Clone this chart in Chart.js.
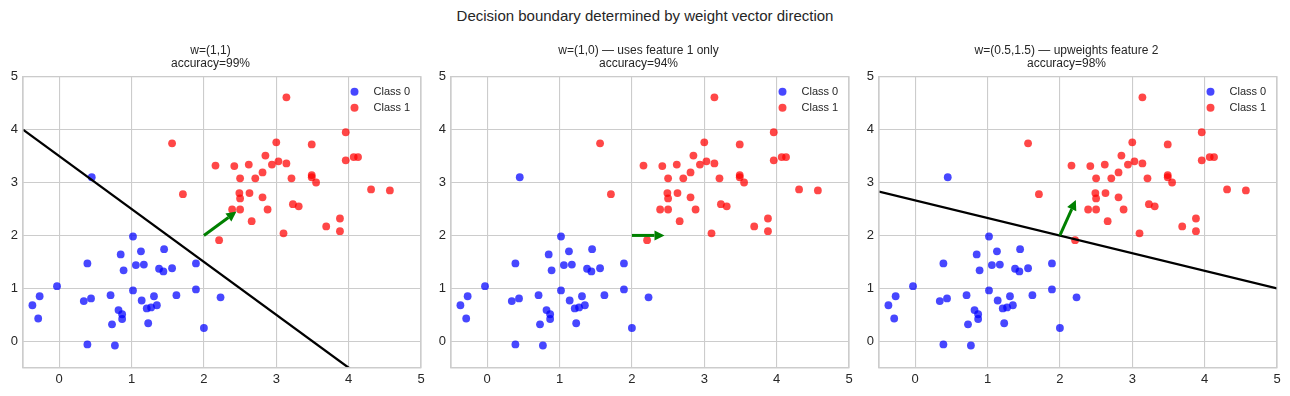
<!DOCTYPE html>
<html>
<head>
<meta charset="utf-8">
<script src="https://cdn.jsdelivr.net/npm/chart.js@4.4.0/dist/chart.umd.min.js"></script>
<style>
  body { margin: 0; background: #fff; }
  #fig { position: relative; width: 1290px; height: 396px; font-family: "Liberation Sans", Arial, sans-serif; }
  #suptitle { position: absolute; top: 8px; left: 0; width: 1290px; text-align: center; font-size: 15px; line-height: 16px; color: #262626; }
  .panel { position: absolute; top: 0; width: 434px; height: 396px; }
</style>
</head>
<body>
<div id="fig">
  <div id="suptitle">Decision boundary determined by weight vector direction</div>
  <div class="panel" style="left:0px"><canvas id="c0"></canvas></div>
  <div class="panel" style="left:428px"><canvas id="c1"></canvas></div>
  <div class="panel" style="left:856px"><canvas id="c2"></canvas></div>
</div>
<script>
// class 0 (blue) points
const class0X = [0.45, -0.37, -0.27, -0.29, -0.03, 0.39, 0.34, 0.44, 0.39, 0.71, 0.73, 0.77, 0.82, 0.87, 0.87,
  0.85, 0.89, 1.02, 1.02, 1.06, 1.13, 1.14, 1.17, 1.21, 1.23, 1.27, 1.31, 1.35, 1.38, 1.44, 1.45, 1.56, 1.62,
  1.89, 1.89, 2.00, 2.23];
const class0Y = [3.10, 0.68, 0.85, 0.43, 1.04, 1.47, 0.76, 0.81, -0.06, 0.87, 0.32, -0.08, 0.59, 0.51, 0.42,
  1.64, 1.34, 1.98, 0.96, 1.44, 1.70, 0.77, 1.45, 0.62, 0.34, 0.64, 0.85, 0.68, 1.37, 1.32, 1.74, 1.38, 0.87,
  1.47, 0.98, 0.25, 0.83];

// class 1 (red) points
const class1X = [3.14, 1.56, 1.71, 2.16, 2.42, 2.62, 2.50, 2.71, 2.81, 2.85, 2.94, 3.00, 3.03, 3.14, 3.21,
  3.49, 3.49, 3.49, 3.55, 3.96, 3.96, 4.07, 4.13, 4.31, 4.57, 2.39, 2.50, 2.49, 2.50, 2.63, 2.81, 2.88, 2.66,
  2.21, 3.10, 3.23, 3.31, 3.69, 3.88, 3.88];
const class1Y = [4.61, 3.74, 2.78, 3.32, 3.31, 3.34, 3.08, 3.08, 3.19, 3.51, 3.34, 3.76, 3.40, 3.36, 3.08,
  3.72, 3.14, 3.10, 3.00, 3.95, 3.42, 3.48, 3.48, 2.87, 2.85, 2.49, 2.49, 2.80, 2.70, 2.80, 2.72, 2.49, 2.27,
  1.91, 2.04, 2.59, 2.55, 2.17, 2.32, 2.08];

const xTicks = [0, 1, 2, 3, 4, 5];
const yTicks = [0, 1, 2, 3, 4, 5];

const panelTitles = ['w=(1,1)', 'w=(1,0) \u2014 uses feature 1 only', 'w=(0.5,1.5) \u2014 upweights feature 2'];
const accuracies = ['accuracy=99%', 'accuracy=94%', 'accuracy=98%'];

// decision boundary end points (none for w=(1,0))
const boundaryX = [[-0.5, 5], [], [-0.5, 5]];
const boundaryY = [[4.0, -1.5], [], [2.83, 1.0]];

// weight vector arrows
const arrowFrom = [[2, 2], [2, 2], [2, 2]];
const arrowTo = [[2.45, 2.45], [2.45, 2.0], [2.22, 2.67]];

Chart.defaults.font.family = '"Liberation Sans", Arial, sans-serif';
Chart.defaults.color = '#262626';

function toPoints(xs, ys) {
  return xs.map((x, i) => ({ x: x, y: ys[i] }));
}

function makePanel(idx) {
  const extras = {
    id: 'extras' + idx,
    afterDatasetsDraw(chart) {
      const ctx = chart.ctx;
      const xs = chart.scales.x, ys = chart.scales.y;
      const a = chart.chartArea;
      // frame
      ctx.save();
      ctx.strokeStyle = '#cccccc';
      ctx.lineWidth = 1.2;
      ctx.strokeRect(a.left, a.top, a.right - a.left, a.bottom - a.top);
      // arrow
      const x0 = xs.getPixelForValue(arrowFrom[idx][0]), y0 = ys.getPixelForValue(arrowFrom[idx][1]);
      const x1 = xs.getPixelForValue(arrowTo[idx][0]), y1 = ys.getPixelForValue(arrowTo[idx][1]);
      const ang = Math.atan2(y1 - y0, x1 - x0);
      const headLen = 10, headHalf = 5;
      const bx = x1 - headLen * Math.cos(ang), by = y1 - headLen * Math.sin(ang);
      ctx.strokeStyle = 'green';
      ctx.fillStyle = 'green';
      ctx.lineWidth = 3;
      ctx.beginPath();
      ctx.moveTo(x0, y0);
      ctx.lineTo(bx, by);
      ctx.stroke();
      ctx.beginPath();
      ctx.moveTo(x1, y1);
      ctx.lineTo(bx + headHalf * Math.sin(ang), by - headHalf * Math.cos(ang));
      ctx.lineTo(bx - headHalf * Math.sin(ang), by + headHalf * Math.cos(ang));
      ctx.closePath();
      ctx.fill();
      // legend
      const labels = ['Class 0', 'Class 1'];
      const cols = ['rgba(0,0,255,0.72)', 'rgba(255,0,0,0.72)'];
      ctx.font = '11px "Liberation Sans", Arial, sans-serif';
      ctx.textBaseline = 'middle';
      labels.forEach((t, i) => {
        const cy = a.top + 15 + 16 * i;
        ctx.fillStyle = cols[i];
        ctx.beginPath();
        ctx.arc(a.right - 66.5, cy, 4, 0, Math.PI * 2);
        ctx.fill();
        ctx.fillStyle = '#262626';
        ctx.fillText(t, a.right - 47.5, cy);
      });
      ctx.restore();
    }
  };

  const datasets = [
    {
      type: 'scatter', label: 'Class 0', data: toPoints(class0X, class0Y),
      backgroundColor: 'rgba(0,0,255,0.72)', borderWidth: 0, pointRadius: 3.9, order: 2
    },
    {
      type: 'scatter', label: 'Class 1', data: toPoints(class1X, class1Y),
      backgroundColor: 'rgba(255,0,0,0.72)', borderWidth: 0, pointRadius: 3.9, order: 2
    }
  ];
  if (boundaryX[idx].length) {
    datasets.push({
      type: 'line', label: 'boundary', data: toPoints(boundaryX[idx], boundaryY[idx]),
      borderColor: '#000', borderWidth: 2.3, pointRadius: 0, fill: false, clip: 0, order: 1
    });
  }

  new Chart(document.getElementById('c' + idx), {
    type: 'scatter',
    data: { datasets: datasets },
    options: {
      responsive: true,
      maintainAspectRatio: false,
      animation: false,
      events: [],
      layout: { padding: { left: 0, right: 13, top: 0, bottom: 0 } },
      plugins: {
        legend: { display: false },
        tooltip: { enabled: false },
        title: {
          display: true,
          text: [panelTitles[idx], accuracies[idx]],
          color: '#262626',
          font: { size: 12, weight: 'normal', lineHeight: 1.05 },
          padding: { top: 44.7, bottom: 6.8 }
        }
      },
      scales: {
        x: {
          type: 'linear', min: -0.5, max: 5,
          afterBuildTicks: (s) => { s.ticks = xTicks.map(v => ({ value: v })); },
          afterFit: (s) => { s.height = 28.3; },
          grid: { color: '#cccccc', lineWidth: 1.1, drawTicks: false },
          border: { display: true, color: '#cccccc', width: 1.2 },
          ticks: { padding: 3.5, font: { size: 13 }, color: '#262626', maxRotation: 0 }
        },
        y: {
          type: 'linear', min: -0.5, max: 5,
          afterBuildTicks: (s) => { s.ticks = yTicks.map(v => ({ value: v })); },
          afterFit: (s) => { s.width = 23; },
          grid: { color: '#cccccc', lineWidth: 1.1, drawTicks: false },
          border: { display: true, color: '#cccccc', width: 1.2 },
          ticks: { padding: 5, font: { size: 13 }, color: '#262626' }
        }
      }
    },
    plugins: [extras]
  });
}

[0, 1, 2].forEach(makePanel);
</script>
</body>
</html>
